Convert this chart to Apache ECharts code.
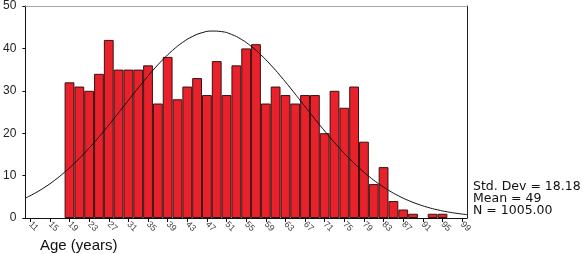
<!DOCTYPE html>
<html>
<head>
<meta charset="utf-8">
<script src="https://cdn.jsdelivr.net/npm/echarts@6/dist/echarts.min.js"></script>
<style>html,body{margin:0;padding:0;background:#fff;}#c{width:582px;height:254px;}</style>
</head>
<body>
<div id="c"></div>
<script>
// Bin midpoints (age, 2-year bins)
const categories = ['11','13','15','17','19','21','23','25','27','29','31','33','35','37','39','41','43','45','47','49','51','53','55','57','59','61','63','65','67','69','71','73','75','77','79','81','83','85','87','89','91','93','95','97','99'];
// Frequencies per bin
const counts = [0,0,0,0,32,31,30,34,42,35,35,35,36,27,38,28,31,33,29,37,29,36,40,41,27,31,29,27,29,29,20,30,26,31,18,8,12,4,2,1,0,1,1,0,0];
// Fitted normal curve, read at ages 10..100 step 2
const curveX = [10,12,14,16,18,20,22,24,26,28,30,32,34,36,38,40,42,44,46,48,50,52,54,56,58,60,62,64,66,68,70,72,74,76,78,80,82,84,86,88,90,92,94,96,98,100];
const curveY = [4.69,5.88,7.29,8.92,10.80,12.91,15.25,17.79,20.51,23.36,26.28,29.22,32.09,34.83,37.33,39.54,41.38,42.78,43.70,44.09,43.96,43.30,42.14,40.51,38.48,36.11,33.48,30.67,27.75,24.81,21.92,19.13,16.49,14.05,11.83,9.83,8.08,6.55,5.25,4.16,3.26,2.52,1.92,1.45,1.08,0.80];
const yTicks = [0,10,20,30,40,50];
const statsLines = ['Std. Dev = 18.18','Mean = 49','N = 1005.00'];
const xTitle = 'Age (years)';

const chart = echarts.init(document.getElementById('c'), null, {renderer:'canvas'});
const font = 'Liberation Sans, Arial, sans-serif';
chart.setOption({
  animation:false,
  backgroundColor:'#fff',
  grid:{left:25,right:115,top:3,bottom:36,containLabel:false},
  xAxis:[{
    type:'category', data:categories, boundaryGap:true, position:'bottom',
    axisLine:{show:true,lineStyle:{color:'#111',width:1}},
    axisTick:{show:true,interval:1,alignWithLabel:true,length:4,lineStyle:{color:'#111'}},
    axisLabel:{interval:1,rotate:-45,fontSize:9,color:'#444',fontFamily:font,margin:5},
    splitLine:{show:false}
  },{
    type:'value', min:10, max:100, position:'top',
    axisLine:{show:true,onZero:false,lineStyle:{color:'#aaa',width:1}},
    axisTick:{show:false}, axisLabel:{show:false}, splitLine:{show:false}
  }],
  yAxis:[{
    type:'value', min:yTicks[0], max:yTicks[yTicks.length-1], interval:10,
    axisLine:{show:true,lineStyle:{color:'#111',width:1}},
    axisTick:{show:true,length:3,lineStyle:{color:'#111'}},
    axisLabel:{fontSize:12,color:'#222',fontFamily:font,margin:9},
    splitLine:{show:false}
  },{
    type:'value', min:0, max:50, position:'right',
    axisLine:{show:true,lineStyle:{color:'#222',width:1}},
    axisTick:{show:false}, axisLabel:{show:false}, splitLine:{show:false}
  }],
  series:[{
    type:'bar', data:counts.map(v => v === 0 ? null : v), xAxisIndex:0, yAxisIndex:0,
    barCategoryGap:'0%', barGap:'0%',
    itemStyle:{color:'#e8212b',borderColor:'#3a1212',borderWidth:1}
  },{
    type:'line', xAxisIndex:1, yAxisIndex:0,
    data:curveX.map((x,i)=>[x,curveY[i]]),
    smooth:true, showSymbol:false, symbol:'none',
    lineStyle:{color:'#111',width:1}
  }],
  graphic:[{
    type:'text', left:40, top:238,
    style:{text:xTitle,font:'15px '+font,fill:'#111'}
  },{
    type:'text', left:473, top:180,
    style:{text:statsLines.join('\n'),font:'12.5px DejaVu Sans, sans-serif',fill:'#111',lineHeight:12}
  }]
});
</script>
</body>
</html>
